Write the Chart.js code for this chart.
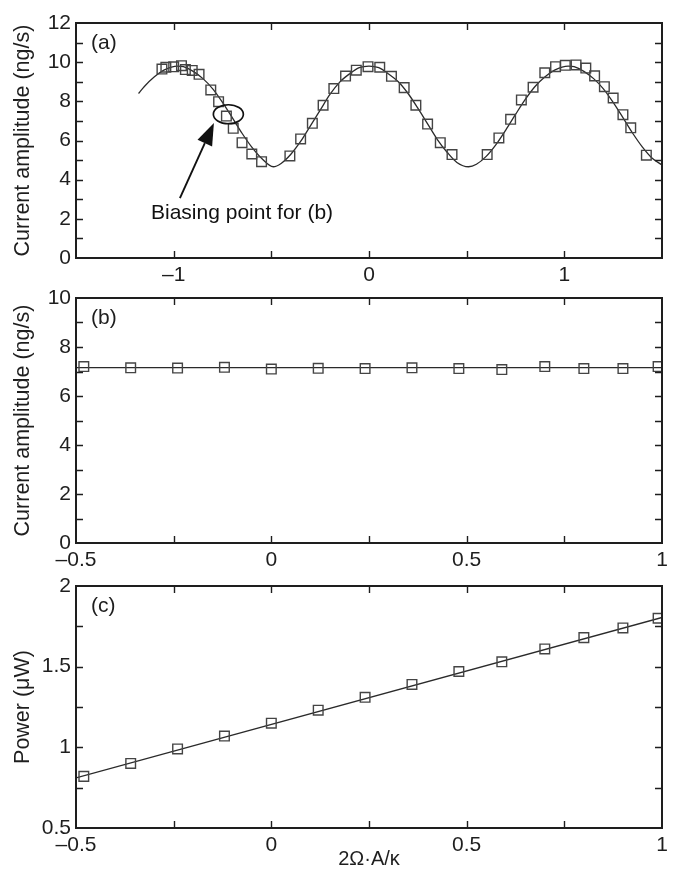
<!DOCTYPE html>
<html>
<head>
<meta charset="utf-8">
<title>Current amplitude and power vs 2Ω·A/κ</title>
<script src="https://cdn.jsdelivr.net/npm/chart.js@4"></script>
<style>
  body { margin: 0; background: #fff; }
  #wrap { position: relative; width: 674px; height: 869px; overflow: hidden; }
  canvas { position: absolute; left: 0; }
</style>
</head>
<body>
<div id="wrap">
  <canvas id="chartA" width="674" height="290" style="top:0px"></canvas>
  <canvas id="chartB" width="674" height="305" style="top:270px"></canvas>
  <canvas id="chartC" width="674" height="309" style="top:560px"></canvas>
</div>
<script>
// ---- data ----

// (a) measured points
const pointsAX = [-1.06, -1.04, -1.00, -0.96, -0.94, -0.905, -0.87, -0.81, -0.77, -0.73, -0.695, -0.65, -0.60, -0.55,
                  -0.405, -0.35, -0.29, -0.235, -0.18, -0.12, -0.065, -0.005, 0.055, 0.115, 0.18, 0.24, 0.30, 0.365, 0.425,
                  0.605, 0.665, 0.725, 0.78, 0.84, 0.90, 0.955, 1.005, 1.06, 1.11, 1.155, 1.205, 1.25, 1.30, 1.34, 1.42];
const pointsAY = [9.65, 9.74, 9.76, 9.82, 9.62, 9.58, 9.38, 8.58, 7.98, 7.25, 6.62, 5.89, 5.31, 4.92,
                  5.21, 6.08, 6.88, 7.80, 8.65, 9.29, 9.59, 9.77, 9.74, 9.28, 8.70, 7.80, 6.84, 5.89, 5.28,
                  5.28, 6.13, 7.08, 8.07, 8.72, 9.46, 9.77, 9.84, 9.86, 9.70, 9.30, 8.75, 8.17, 7.32, 6.65, 5.25];

// (a) fitted curve, sampled along the drawn line
const curveAX = [-1.18, -1.15, -1.10, -1.05, -0.98, -0.95, -0.90, -0.85, -0.80, -0.75, -0.70, -0.65, -0.60, -0.55, -0.49,
                 -0.45, -0.40, -0.35, -0.30, -0.25, -0.20, -0.15, -0.10, -0.05, 0.00,
                 0.05, 0.10, 0.15, 0.20, 0.25, 0.30, 0.35, 0.40, 0.45, 0.51,
                 0.55, 0.60, 0.65, 0.70, 0.75, 0.80, 0.85, 0.90, 0.95, 1.02,
                 1.05, 1.10, 1.15, 1.20, 1.25, 1.30, 1.35, 1.40, 1.45, 1.50];
const curveAY = [8.40, 8.76, 9.24, 9.59, 9.80, 9.77, 9.53, 9.16, 8.64, 7.95, 7.17, 6.37, 5.66, 5.09, 4.66,
                 4.83, 5.30, 5.95, 6.75, 7.55, 8.35, 8.98, 9.40, 9.72, 9.80,
                 9.72, 9.40, 9.00, 8.40, 7.65, 6.85, 6.05, 5.40, 4.88, 4.66,
                 4.79, 5.19, 5.79, 6.53, 7.33, 8.10, 8.76, 9.24, 9.59, 9.80,
                 9.77, 9.53, 9.16, 8.64, 7.95, 7.17, 6.37, 5.66, 5.09, 4.75];

// (b) and (c) share the same x positions
const pointsBCX = [-0.48, -0.36, -0.24, -0.12, 0.00, 0.12, 0.24, 0.36, 0.48, 0.59, 0.70, 0.80, 0.90, 0.99];
const pointsBY  = [7.20, 7.15, 7.14, 7.17, 7.10, 7.13, 7.12, 7.15, 7.12, 7.08, 7.20, 7.12, 7.12, 7.20];
const lineBX = [-0.5, 1.0];
const lineBY = [7.16, 7.16];

const pointsCY = [0.82, 0.90, 0.99, 1.07, 1.15, 1.23, 1.31, 1.39, 1.47, 1.53, 1.61, 1.68, 1.74, 1.80];
const lineCX = [-0.5, 1.0];
const lineCY = [0.81, 1.805];

// tick settings per panel
const ticksA = { xMin: -1.5, xMax: 1.5, xStep: 0.5, yMin: 0, yMax: 12, yStep: 1 };
const ticksB = { xMin: -0.5, xMax: 1, xStep: 0.25, yMin: 0, yMax: 10, yStep: 1 };
const ticksC = { xMin: -0.5, xMax: 1, xStep: 0.25, yMin: 0.5, yMax: 2, yStep: 0.25 };

// ---- helpers ----
const FONT = '"Liberation Sans", Arial, Helvetica, sans-serif';
const FSIZE = 21;
const INK = '#1e1e1e';

function toXY(xs, ys) {
    return xs.map((x, i) => ({ x: x, y: ys[i] }));
}

function fmt(v) {
    const r = Math.round(v * 1000) / 1000;
    return r < 0 ? '\u2013' + String(-r) : String(r);
}

// label only every `every` units
function labelEvery(every) {
    return function(value) {
        const q = value / every;
        return Math.abs(q - Math.round(q)) < 1e-6 ? fmt(value) : '';
    };
}

// box frame with inward ticks on all four sides, plus the panel letter
const framePlugin = {
    id: 'frame',
    afterDraw(chart, args, opts) {
        const { ctx, chartArea: a } = chart;
        const xs = chart.scales.x, ys = chart.scales.y;
        const len = 7;
        ctx.save();
        ctx.strokeStyle = INK;
        ctx.lineWidth = 1.4;
        ctx.beginPath();
        xs.ticks.forEach(t => {
            const px = Math.round(xs.getPixelForValue(t.value)) + 0.5;
            if (px < a.left + 2 || px > a.right - 2) return;
            ctx.moveTo(px, a.bottom); ctx.lineTo(px, a.bottom - len);
            ctx.moveTo(px, a.top); ctx.lineTo(px, a.top + len);
        });
        ys.ticks.forEach(t => {
            const py = Math.round(ys.getPixelForValue(t.value)) + 0.5;
            if (py < a.top + 2 || py > a.bottom - 2) return;
            ctx.moveTo(a.left, py); ctx.lineTo(a.left + len, py);
            ctx.moveTo(a.right, py); ctx.lineTo(a.right - len, py);
        });
        ctx.stroke();
        ctx.lineWidth = 2;
        ctx.strokeRect(a.left, a.top, a.right - a.left, a.bottom - a.top);

        ctx.fillStyle = INK;
        ctx.font = FSIZE + 'px ' + FONT;
        ctx.textBaseline = 'middle';
        ctx.textAlign = 'left';
        ctx.fillText(opts.label, a.left + 15, a.top + 20);
        ctx.restore();
    }
};

// ellipse, arrow and note on panel (a), placed in data units
const biasPlugin = {
    id: 'bias',
    afterDatasetsDraw(chart) {
        const { ctx } = chart;
        const xs = chart.scales.x, ys = chart.scales.y;
        const cx = xs.getPixelForValue(-0.72), cy = ys.getPixelForValue(7.34);
        ctx.save();
        ctx.strokeStyle = '#111';
        ctx.fillStyle = '#111';
        ctx.lineWidth = 1.7;
        ctx.beginPath();
        ctx.ellipse(cx, cy, 15, 9.5, 0, 0, Math.PI * 2);
        ctx.stroke();

        // arrow
        const x0 = xs.getPixelForValue(-0.968), y0 = ys.getPixelForValue(3.06);
        const x1 = xs.getPixelForValue(-0.794), y1 = ys.getPixelForValue(6.89);
        const ang = Math.atan2(y1 - y0, x1 - x0);
        const headLen = 22, headW = 8;
        const bx = x1 - headLen * Math.cos(ang), by = y1 - headLen * Math.sin(ang);
        ctx.lineWidth = 1.9;
        ctx.beginPath();
        ctx.moveTo(x0, y0);
        ctx.lineTo(bx, by);
        ctx.stroke();
        ctx.beginPath();
        ctx.moveTo(x1, y1);
        ctx.lineTo(bx + headW * Math.sin(ang), by - headW * Math.cos(ang));
        ctx.lineTo(bx - headW * Math.sin(ang), by + headW * Math.cos(ang));
        ctx.closePath();
        ctx.fill();

        ctx.font = FSIZE + 'px ' + FONT;
        ctx.textBaseline = 'middle';
        ctx.textAlign = 'left';
        ctx.fillText('Biasing point for (b)', xs.getPixelForValue(-1.116), ys.getPixelForValue(2.30));
        ctx.restore();
    }
};

function markerSet(data) {
    return {
        type: 'scatter',
        data: data,
        showLine: false,
        pointStyle: 'rect',
        pointRadius: 6.8,
        pointBorderWidth: 1.4,
        pointBorderColor: '#444',
        pointBackgroundColor: 'rgba(0,0,0,0)',
        order: 1
    };
}

function lineSet(data, smooth) {
    return {
        type: 'scatter',
        data: data,
        showLine: true,
        borderColor: '#2a2a2a',
        borderWidth: 1.3,
        pointRadius: 0,
        cubicInterpolationMode: smooth ? 'monotone' : 'default',
        tension: 0,
        order: 2
    };
}

function makeChart(id, cfg) {
    const t = cfg.ticks;
    return new Chart(document.getElementById(id), {
        type: 'scatter',
        data: { datasets: cfg.datasets },
        options: {
            responsive: false,
            animation: false,
            layout: { padding: { top: cfg.padTop, right: 12, left: 0, bottom: 0 } },
            plugins: {
                legend: { display: false },
                tooltip: { enabled: false },
                frame: { label: cfg.label }
            },
            scales: {
                x: {
                    type: 'linear',
                    min: t.xMin, max: t.xMax,
                    grid: { display: false, drawTicks: false },
                    border: { display: false },
                    ticks: {
                        stepSize: t.xStep, autoSkip: false, maxRotation: 0,
                        padding: 5, color: INK,
                        font: { family: FONT, size: FSIZE },
                        callback: labelEvery(cfg.xLabelEvery)
                    },
                    title: cfg.xTitle ? {
                        display: true, text: cfg.xTitle, color: INK,
                        font: { family: FONT, size: FSIZE - 1, lineHeight: 1 },
                        padding: { top: 0, bottom: 0 }
                    } : { display: false },
                    afterFit(scale) { scale.height = cfg.xHeight; }
                },
                y: {
                    type: 'linear',
                    min: t.yMin, max: t.yMax,
                    grid: { display: false, drawTicks: false },
                    border: { display: false },
                    ticks: {
                        stepSize: t.yStep, autoSkip: false,
                        padding: 5, color: INK,
                        font: { family: FONT, size: FSIZE },
                        callback: labelEvery(cfg.yLabelEvery)
                    },
                    title: {
                        display: true, text: cfg.yTitle, color: INK,
                        font: { family: FONT, size: FSIZE + 0.5, lineHeight: 1.2 },
                        padding: { top: 10, bottom: 0 }
                    },
                    afterFit(scale) { scale.width = 76; }
                }
            }
        },
        plugins: cfg.plugins
    });
}

makeChart('chartA', {
    label: '(a)',
    ticks: ticksA,
    padTop: 23, xHeight: 32,
    xLabelEvery: 1, yLabelEvery: 2,
    yTitle: 'Current amplitude (ng/s)',
    datasets: [lineSet(toXY(curveAX, curveAY), true), markerSet(toXY(pointsAX, pointsAY))],
    plugins: [framePlugin, biasPlugin]
});

makeChart('chartB', {
    label: '(b)',
    ticks: ticksB,
    padTop: 28, xHeight: 32,
    xLabelEvery: 0.5, yLabelEvery: 2,
    yTitle: 'Current amplitude (ng/s)',
    datasets: [lineSet(toXY(lineBX, lineBY), false), markerSet(toXY(pointsBCX, pointsBY))],
    plugins: [framePlugin]
});

makeChart('chartC', {
    label: '(c)',
    ticks: ticksC,
    padTop: 26, xHeight: 41,
    xLabelEvery: 0.5, yLabelEvery: 0.5,
    yTitle: 'Power (\u03bcW)',
    xTitle: '2\u03a9\u00b7A/\u03ba',
    datasets: [lineSet(toXY(lineCX, lineCY), false), markerSet(toXY(pointsBCX, pointsCY))],
    plugins: [framePlugin]
});
</script>
</body>
</html>
